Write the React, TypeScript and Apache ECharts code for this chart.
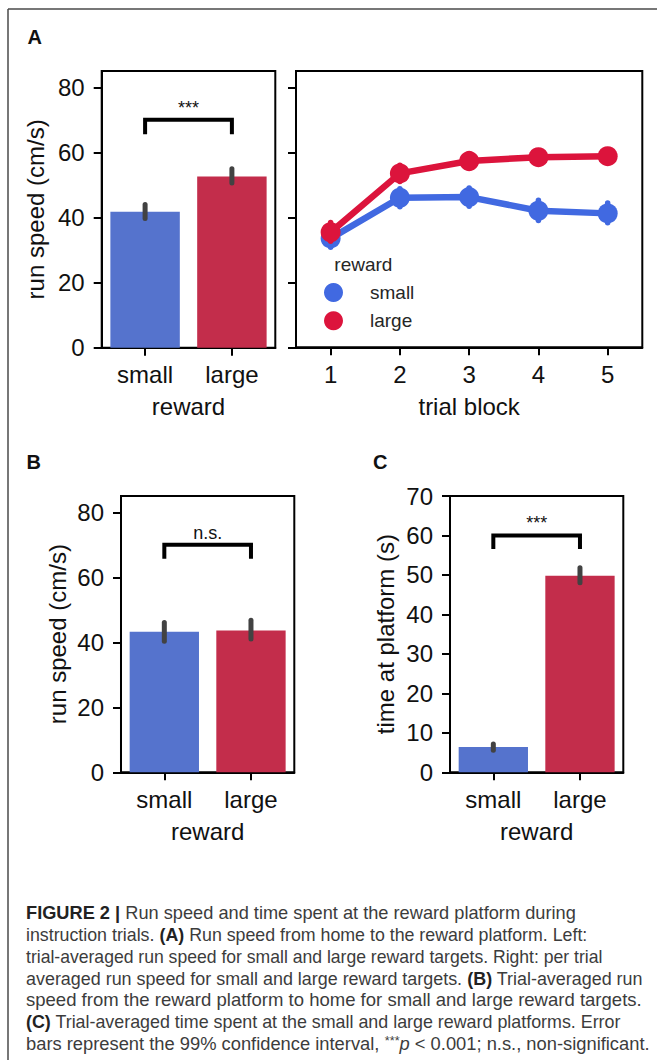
import React, { useEffect, useRef } from "react";
import * as echarts from "echarts";

// ---------- data ----------
const rewardCats = ["small", "large"];
const blockCats = ["1", "2", "3", "4", "5"];

// Panel A left: run speed home -> reward (cm/s)
const aSpeed = [41.8, 52.6];
const aSpeedLo = [39.7, 50.6];
const aSpeedHi = [44.0, 55.0];

// Panel A right: per trial block
const blockSmall = [33.5, 46.0, 46.2, 42.0, 41.2];
const blockSmallLo = [30.8, 43.2, 43.4, 39.0, 38.3];
const blockSmallHi = [36.4, 48.8, 49.0, 45.2, 44.4];
const blockLarge = [35.4, 53.5, 57.3, 58.5, 58.8];
const blockLargeLo = [32.6, 51.0, 55.0, 56.4, 56.9];
const blockLargeHi = [38.4, 56.0, 59.6, 60.5, 60.7];

// Panel B: run speed reward -> home (cm/s)
const bSpeed = [43.2, 43.6];
const bSpeedLo = [40.3, 41.0];
const bSpeedHi = [46.1, 46.8];

// Panel C: time at platform (s)
const cTime = [6.4, 49.8];
const cTimeLo = [5.6, 48.0];
const cTimeHi = [7.2, 51.8];

// significance brackets: [x0, x1, top, leg]
const sigA = [[0, 1, 70, 65.6]];
const sigB = [[0, 1, 70, 65.7]];
const sigC = [[0, 1, 60, 56.6]];
const sigLabelsA = ["***"];
const sigLabelsB = ["n.s."];
const sigLabelsC = ["***"];

const speedTicks = [0, 20, 40, 60, 80];
const timeTicks = [0, 10, 20, 30, 40, 50, 60, 70];

// caption
type Seg = { t: string; s?: "b" | "i" | "sup" };
const captionLines: Seg[][] = [
  [{ t: "FIGURE 2 |", s: "b" }, { t: " Run speed and time spent at the reward platform during" }],
  [{ t: "instruction trials. " }, { t: "(A)", s: "b" }, { t: " Run speed from home to the reward platform. Left:" }],
  [{ t: "trial-averaged run speed for small and large reward targets. Right: per trial" }],
  [{ t: "averaged run speed for small and large reward targets. " }, { t: "(B)", s: "b" }, { t: " Trial-averaged run" }],
  [{ t: "speed from the reward platform to home for small and large reward targets." }],
  [{ t: "(C)", s: "b" }, { t: " Trial-averaged time spent at the small and large reward platforms. Error" }],
  [{ t: "bars represent the 99% confidence interval, " }, { t: "***", s: "sup" }, { t: "p", s: "i" }, { t: " < 0.001; n.s., non-significant." }],
];
const captionRight = [576, 588, 603, 643, 642, 621, 650];
const captionY = [913, 935, 957, 979, 1000.5, 1022, 1044];

// ---------- style ----------
const FONT = "'Liberation Sans', Arial, Helvetica, sans-serif";
const TICK_FS = 24;
const BLUE = "#4169E1";
const RED = "#DC143C";
const BAR_BLUE = "#5573CD";
const BAR_RED = "#C32D4B";
const ERR = "#424242";
const CAP_FS = 17.5;

function errRender(color: string, width: number) {
  return (params: any, api: any) => {
    const x = api.value(0);
    const p1 = api.coord([x, api.value(1)]);
    const p2 = api.coord([x, api.value(2)]);
    return {
      type: "line",
      shape: { x1: p1[0], y1: p1[1], x2: p2[0], y2: p2[1] },
      style: { stroke: color, lineWidth: width, lineCap: "round" },
    };
  };
}

function bracketRender(labels: string[]) {
  return (params: any, api: any) => {
    const x0 = api.value(0);
    const x1 = api.value(1);
    const top = api.value(2);
    const leg = api.value(3);
    const a = api.coord([x0, leg]);
    const b = api.coord([x0, top]);
    const c = api.coord([x1, top]);
    const d = api.coord([x1, leg]);
    return {
      type: "group",
      children: [
        {
          type: "polyline",
          shape: { points: [a, b, c, d] },
          style: { stroke: "#000", lineWidth: 4, fill: null, lineJoin: "miter" },
        },
        {
          type: "text",
          style: {
            text: labels[params.dataIndex],
            x: (b[0] + c[0]) / 2,
            y: b[1] - 3,
            align: "center",
            verticalAlign: "bottom",
            textAlign: "center",
            textVerticalAlign: "bottom",
            fontSize: 18,
            fontFamily: FONT,
            fill: "#111",
          },
        },
      ],
    };
  };
}

function catAxis(gridIndex: number, data: string[], name: string) {
  return {
    type: "category",
    gridIndex,
    data,
    boundaryGap: true,
    axisLine: { show: true, lineStyle: { color: "#000", width: 2 } },
    axisTick: { show: true, alignWithLabel: true, interval: 0, length: 8, inside: false, lineStyle: { color: "#000", width: 2 } },
    axisLabel: { fontSize: TICK_FS, color: "#111", fontFamily: FONT, margin: 15, interval: 0 },
    splitLine: { show: false },
    name,
    nameLocation: "middle",
    nameGap: 47,
    nameTextStyle: { fontSize: TICK_FS, color: "#111", fontFamily: FONT },
  };
}

function valAxis(gridIndex: number, max: number, ticks: number[], showLabels: boolean, name: string, nameGap: number) {
  return {
    type: "value",
    gridIndex,
    min: 0,
    max,
    axisLine: { show: true, lineStyle: { color: "#000", width: 2 } },
    axisTick: { show: true, length: 8, inside: false, customValues: ticks, lineStyle: { color: "#000", width: 2 } },
    axisLabel: { show: showLabels, customValues: ticks, fontSize: TICK_FS, color: "#111", fontFamily: FONT, margin: 17 },
    splitLine: { show: false },
    name,
    nameLocation: "middle",
    nameGap,
    nameTextStyle: { fontSize: TICK_FS, color: "#111", fontFamily: FONT },
  };
}

function segFont(s: Seg, size: number) {
  const style = s.s === "i" ? "italic " : "";
  const weight = s.s === "b" ? "bold " : "";
  const sz = s.s === "sup" ? 12 : size;
  return `${style}${weight}${sz}px ${FONT}`;
}

export default function App() {
  const ref = useRef<HTMLDivElement>(null);

  useEffect(() => {
    const el = ref.current;
    if (!el) return;
    const chart = echarts.init(el, null, { renderer: "svg" });

    const CAP_LEFT = 26;
    const canvas = document.createElement("canvas");
    const ctx = canvas.getContext("2d");

    const captionGraphics = captionLines.map((segs, li) => {
      let w = 0;
      segs.forEach((s) => {
        if (ctx) {
          ctx.font = segFont(s, CAP_FS);
          w += ctx.measureText(s.t).width;
        }
      });
      const target = captionRight[li] - CAP_LEFT;
      const scaleX = w > 0 ? target / w : 1;
      const text = segs
        .map((s) => (s.s ? `{${s.s}|${s.t}}` : s.t))
        .join("");
      return {
        type: "text",
        x: CAP_LEFT,
        y: captionY[li],
        scaleX,
        scaleY: 1,
        style: {
          text,
          fontSize: CAP_FS,
          fontFamily: FONT,
          fill: "#3c3c3c",
          align: "left",
          verticalAlign: "middle",
          rich: {
            b: { fontWeight: "bold", fontSize: CAP_FS, fontFamily: FONT, fill: "#222" },
            i: { fontStyle: "italic", fontSize: CAP_FS, fontFamily: FONT, fill: "#3c3c3c" },
            sup: { fontSize: 12, fontFamily: FONT, fill: "#3c3c3c", verticalAlign: "top" },
          },
        },
      };
    });

    const option: any = {
      animation: false,
      backgroundColor: "#fff",
      grid: [
        { left: 101.7, top: 71, width: 173.6, height: 276.7, show: true, borderColor: "#000", borderWidth: 2 },
        { left: 296, top: 71, width: 346.3, height: 276.3, show: true, borderColor: "#000", borderWidth: 2 },
        { left: 121, top: 496, width: 173.3, height: 276.3, show: true, borderColor: "#000", borderWidth: 2 },
        { left: 450, top: 496, width: 173.3, height: 276.3, show: true, borderColor: "#000", borderWidth: 2 },
      ],
      xAxis: [
        catAxis(0, rewardCats, "reward"),
        catAxis(1, blockCats, "trial block"),
        catAxis(2, rewardCats, "reward"),
        catAxis(3, rewardCats, "reward"),
      ],
      yAxis: [
        valAxis(0, 85, speedTicks, true, "run speed (cm/s)", 54),
        valAxis(1, 85, speedTicks, false, "", 10),
        valAxis(2, 85, speedTicks, true, "run speed (cm/s)", 52),
        valAxis(3, 70, timeTicks, true, "time at platform (s)", 53),
      ],
      legend: {
        orient: "vertical",
        left: 324,
        top: 283,
        padding: 0,
        itemWidth: 19,
        itemHeight: 19,
        itemGap: 9.3,
        icon: "circle",
        data: ["small", "large"],
        textStyle: { fontSize: 19, color: "#262626", fontFamily: FONT, padding: [0, 0, 0, 22] },
        selectedMode: false,
      },
      graphic: [
        { type: "line", shape: { x1: 8, y1: 9, x2: 657, y2: 9 }, style: { stroke: "#4a4a4a", lineWidth: 1.5 } },
        { type: "line", shape: { x1: 8, y1: 9, x2: 8, y2: 1060 }, style: { stroke: "#4a4a4a", lineWidth: 1.5 } },
        { type: "text", x: 27.5, y: 36.5, style: { text: "A", fontSize: 20, fontWeight: "bold", fontFamily: FONT, fill: "#111", align: "left", verticalAlign: "middle" } },
        { type: "text", x: 26.5, y: 461.7, style: { text: "B", fontSize: 20, fontWeight: "bold", fontFamily: FONT, fill: "#111", align: "left", verticalAlign: "middle" } },
        { type: "text", x: 373, y: 461.7, style: { text: "C", fontSize: 20, fontWeight: "bold", fontFamily: FONT, fill: "#111", align: "left", verticalAlign: "middle" } },
        { type: "text", x: 334.3, y: 264, style: { text: "reward", fontSize: 19, fontFamily: FONT, fill: "#262626", align: "left", verticalAlign: "middle" } },
        ...captionGraphics,
      ],
      series: [
        // Panel A left
        {
          type: "bar",
          xAxisIndex: 0,
          yAxisIndex: 0,
          barWidth: "80%",
          data: aSpeed.map((v, i) => ({ value: v, itemStyle: { color: i === 0 ? BAR_BLUE : BAR_RED } })),
        },
        {
          type: "custom",
          xAxisIndex: 0,
          yAxisIndex: 0,
          z: 5,
          renderItem: errRender(ERR, 5),
          data: rewardCats.map((_, i) => [i, aSpeedLo[i], aSpeedHi[i]]),
        },
        {
          type: "custom",
          xAxisIndex: 0,
          yAxisIndex: 0,
          z: 5,
          renderItem: bracketRender(sigLabelsA),
          data: sigA,
        },
        // Panel A right
        {
          type: "custom",
          name: "small ci",
          xAxisIndex: 1,
          yAxisIndex: 1,
          z: 2,
          renderItem: errRender(BLUE, 5.5),
          data: blockCats.map((_, i) => [i, blockSmallLo[i], blockSmallHi[i]]),
        },
        {
          type: "line",
          name: "small",
          xAxisIndex: 1,
          yAxisIndex: 1,
          z: 3,
          data: blockSmall,
          symbol: "circle",
          symbolSize: 20,
          color: BLUE,
          itemStyle: { color: BLUE },
          lineStyle: { color: BLUE, width: 6.5 },
        },
        {
          type: "custom",
          name: "large ci",
          xAxisIndex: 1,
          yAxisIndex: 1,
          z: 4,
          renderItem: errRender(RED, 5.5),
          data: blockCats.map((_, i) => [i, blockLargeLo[i], blockLargeHi[i]]),
        },
        {
          type: "line",
          name: "large",
          xAxisIndex: 1,
          yAxisIndex: 1,
          z: 5,
          data: blockLarge,
          symbol: "circle",
          symbolSize: 20,
          color: RED,
          itemStyle: { color: RED },
          lineStyle: { color: RED, width: 6.5 },
        },
        // Panel B
        {
          type: "bar",
          xAxisIndex: 2,
          yAxisIndex: 2,
          barWidth: "80%",
          data: bSpeed.map((v, i) => ({ value: v, itemStyle: { color: i === 0 ? BAR_BLUE : BAR_RED } })),
        },
        {
          type: "custom",
          xAxisIndex: 2,
          yAxisIndex: 2,
          z: 5,
          renderItem: errRender(ERR, 5),
          data: rewardCats.map((_, i) => [i, bSpeedLo[i], bSpeedHi[i]]),
        },
        {
          type: "custom",
          xAxisIndex: 2,
          yAxisIndex: 2,
          z: 5,
          renderItem: bracketRender(sigLabelsB),
          data: sigB,
        },
        // Panel C
        {
          type: "bar",
          xAxisIndex: 3,
          yAxisIndex: 3,
          barWidth: "80%",
          data: cTime.map((v, i) => ({ value: v, itemStyle: { color: i === 0 ? BAR_BLUE : BAR_RED } })),
        },
        {
          type: "custom",
          xAxisIndex: 3,
          yAxisIndex: 3,
          z: 5,
          renderItem: errRender(ERR, 5),
          data: rewardCats.map((_, i) => [i, cTimeLo[i], cTimeHi[i]]),
        },
        {
          type: "custom",
          xAxisIndex: 3,
          yAxisIndex: 3,
          z: 5,
          renderItem: bracketRender(sigLabelsC),
          data: sigC,
        },
      ],
    };

    chart.setOption(option);
    return () => chart.dispose();
  }, []);

  return (
    <div
      ref={ref}
      style={{ position: "absolute", left: 0, top: 0, width: 657, height: 1060, background: "#fff" }}
    />
  );
}
